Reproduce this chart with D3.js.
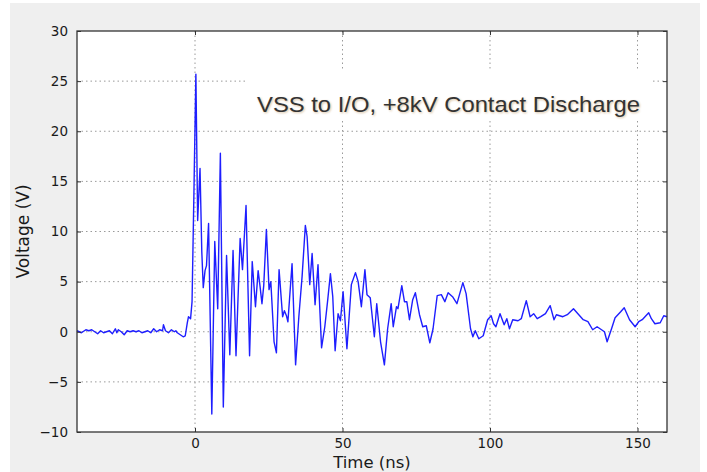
<!DOCTYPE html>
<html>
<head>
<meta charset="utf-8">
<script src="https://cdn.jsdelivr.net/npm/d3@7"></script>
<style>
  body { margin: 0; background: #fff; }
  text { font-family: "DejaVu Sans", sans-serif; }
</style>
</head>
<body>
<svg id="chart" width="707" height="472"></svg>
<script>
// waveform (ns, V)
const timeNs = [
  -40, -38.5, -37, -36, -35, -34, -33, -32, -31, -30, -29, -28, -27, -26.5, -26, -25, -24, -23, -22, -21,
  -20, -19, -18, -17, -16, -15, -14, -13, -12, -11, -10.7, -10, -9, -8, -7, -6.5, -6, -5, -4, -3.3,
  -2.6, -2.2, -1.5, -1, -0.3, 0.3, 0.9, 1.7, 2.3, 2.8, 3.4, 3.9, 4.6, 5.7, 6.7, 7.7, 8.6, 9.6,
  10.7, 11.8, 12.9, 13.9, 15.3, 16.1, 17.3, 18.5, 19.4, 20.5, 21.4, 22.1, 22.7, 23.3, 24.2, 25.1, 25.7, 26.8,
  27.6, 28.5, 29.7, 30.3, 31, 31.5, 32.9, 34.1, 35.2, 36.3, 37.4, 38, 38.9, 39.7, 40.7, 41.7, 42.2, 42.9,
  44, 45, 45.9, 46.7, 47.5, 48.5, 49.3, 50.2, 51.5, 53, 54.4, 55.3, 56.4, 57.6, 58.3, 59.4, 60.8, 61.6,
  62.9, 64.2, 65.3, 66.5, 67.2, 68.3, 68.8, 70.1, 71, 71.8, 72.7, 73.8, 74.7, 76.1, 77.2, 78.4, 79.6, 80.7,
  82.1, 83.5, 84.7, 85.8, 87.3, 88.8, 90.8, 91.9, 93.4, 94.2, 95, 96.2, 97.7, 99.2, 100.4, 101.2, 102, 103.4,
  104.8, 105.7, 106.6, 107.7, 109.5, 110.6, 112.3, 113.6, 114.8, 116, 117.2, 118.8, 120.4, 121.7, 122.5, 124.7,
  126.2, 128.3, 130.1, 131.6, 133.2, 134.8, 136.3, 138.8, 139.7, 141.2, 142.4, 144.3, 145.5, 147.3, 149.2, 150.4,
  151.6, 153.8, 154.7, 155.9, 157.7, 158.9, 160
]
const volts = [
  0.1, -0.1, 0.2, 0.1, 0.2, 0, -0.2, 0.1, -0.1, 0, 0.1, -0.2, 0.3, -0.1, 0.2, 0, -0.3, 0.1, 0, 0.1,
  0, 0.1, -0.1, 0, 0.1, -0.1, 0.3, 0, 0.2, 0.1, 0.7, 0.1, -0.1, 0.2, 0, 0.1, -0.1, -0.3, -0.5, -0.4,
  0.9, 1.5, 1.3, 3, 15, 25.7, 11.1, 16.3, 8, 4.4, 6.1, 6.6, 10.8, -8.2, 9, 2.3, 17.8, -7.5,
  7.6, -2.3, 8.1, -2.4, 9.3, 6.2, 12.6, -2.4, 7, 2.5, 6.1, 4.4, 2.8, 4.6, 10.2, 4.2, 5, -1,
  -2.1, 6.2, 1.5, 2.1, 1.6, 1, 6.8, -3.3, 1.5, 5.5, 10.6, 9.5, 4.7, 7.8, 2.7, 6.7, 3, -1.6,
  0.5, 3.2, 5.8, 3.5, -1.9, 1.8, 1.1, 4, -1.7, 4.7, 5.9, 5, 2.5, 6.2, 3.7, 3.4, -0.5, 2.8,
  -1, -3.3, 0.3, 2.8, 0.5, 2.5, 2.3, 4.6, 3, 3, 1.2, 3.2, 3.9, 1.7, 0.5, 0.6, -1.1, 0.3,
  3.6, 3.7, 3, 3.9, 3.5, 2.8, 4.9, 3.8, 0.3, -0.5, 0.1, -0.7, -0.4, 1.2, 1.6, 0.8, 0.5, 1.8,
  0.7, 1.3, 0.3, 1.2, 1.1, 1.3, 3.1, 1.5, 1.8, 1.3, 1.5, 1.8, 2.6, 1.2, 1.7, 1.5,
  1.7, 2.3, 1.7, 1.2, 1, 0.2, 0.5, 0, -1, 0.3, 1.4, 2, 2.4, 1.2, 0.5, 1,
  1.2, 1.9, 1.3, 0.8, 0.9, 1.6, 1.5
]
const xTicks = [0, 50, 100, 150]
const yTicks = [-10, -5, 0, 5, 10, 15, 20, 25, 30]
const title = 'VSS to I/O, +8kV Contact Discharge'

const svg = d3.select('#chart')
const plot = { left: 77, top: 31, right: 667, bottom: 432 }

svg.append('rect').attr('x', 10).attr('y', 3).attr('width', 690).attr('height', 469).attr('fill', '#efefef')
svg.append('rect')
  .attr('x', plot.left).attr('y', plot.top)
  .attr('width', plot.right - plot.left).attr('height', plot.bottom - plot.top)
  .attr('fill', '#fff')

const x = d3.scaleLinear().domain([-40, 160]).range([plot.left, plot.right])
const y = d3.scaleLinear().domain([-10, 30]).range([plot.bottom, plot.top])

// dotted grid
const grid = svg.append('g').attr('stroke', '#9a9a9a').attr('stroke-width', 1).attr('stroke-dasharray', '1.5,3')
grid.selectAll('.gx').data(xTicks).enter().append('line')
  .attr('x1', d => x(d)).attr('x2', d => x(d)).attr('y1', plot.top).attr('y2', plot.bottom)
grid.selectAll('.gy').data(yTicks.slice(1, -1)).enter().append('line')
  .attr('x1', plot.left).attr('x2', plot.right).attr('y1', d => y(d)).attr('y2', d => y(d))

// white box behind the annotation hides part of the 25 V grid line
svg.append('rect').attr('x', 246).attr('y', 70).attr('width', 406).attr('height', 50).attr('fill', '#fff')

const line = d3.line().x((d, i) => x(timeNs[i])).y(d => y(d))
svg.append('path').datum(volts)
  .attr('d', line).attr('fill', 'none')
  .attr('stroke', '#1e1eff').attr('stroke-width', 1.4).attr('stroke-linejoin', 'round')

// axes, ticks pointing in like matplotlib
const axisStyle = g => {
  g.select('.domain').remove()
  g.selectAll('line').attr('stroke', '#333')
  g.selectAll('text').attr('fill', '#1a1a1a').style('font-size', '13.5px').style('font-family', '"DejaVu Sans", sans-serif')
}
svg.append('g').attr('transform', `translate(0,${plot.bottom})`)
  .call(d3.axisBottom(x).tickValues(xTicks).tickSizeInner(-4).tickSizeOuter(0).tickPadding(6).tickFormat(d3.format('d')))
  .call(axisStyle)
svg.append('g').attr('transform', `translate(0,${plot.top})`)
  .call(d3.axisTop(x).tickValues(xTicks).tickSizeInner(-4).tickSizeOuter(0).tickFormat(''))
  .call(axisStyle)
svg.append('g').attr('transform', `translate(${plot.left},0)`)
  .call(d3.axisLeft(y).tickValues(yTicks).tickSizeInner(-4).tickSizeOuter(0).tickPadding(9).tickFormat(d => d3.format('d')(d).replace('-', '\u2212')))
  .call(axisStyle)
svg.append('g').attr('transform', `translate(${plot.right},0)`)
  .call(d3.axisRight(y).tickValues(yTicks).tickSizeInner(-4).tickSizeOuter(0).tickFormat(''))
  .call(axisStyle)

svg.append('rect')
  .attr('x', plot.left).attr('y', plot.top)
  .attr('width', plot.right - plot.left).attr('height', plot.bottom - plot.top)
  .attr('fill', 'none').attr('stroke', '#333').attr('stroke-width', 1.3)

svg.append('text')
  .attr('x', (plot.left + plot.right) / 2).attr('y', 468)
  .attr('text-anchor', 'middle').attr('fill', '#1a1a1a').style('font-size', '16.5px')
  .text('Time (ns)')
svg.append('text')
  .attr('transform', `translate(29,${(plot.top + plot.bottom) / 2}) rotate(-90)`)
  .attr('text-anchor', 'middle').attr('fill', '#1a1a1a').style('font-size', '17px')
  .text('Voltage (V)')

const defs = svg.append('defs')
defs.append('filter').attr('id', 'soft').append('feGaussianBlur').attr('stdDeviation', 1.2)
svg.append('text')
  .attr('x', 258).attr('y', 113).attr('fill', '#b08040').attr('opacity', 0.5).attr('filter', 'url(#soft)')
  .attr('textLength', 383).attr('lengthAdjust', 'spacingAndGlyphs')
  .style('font-family', '"Liberation Sans", Arial, sans-serif').style('font-size', '22px')
  .text(title)
svg.append('text')
  .attr('x', 257).attr('y', 112).attr('fill', '#333')
  .attr('textLength', 383).attr('lengthAdjust', 'spacingAndGlyphs')
  .style('font-family', '"Liberation Sans", Arial, sans-serif').style('font-size', '22px')
  .text(title)
</script>
</body>
</html>
